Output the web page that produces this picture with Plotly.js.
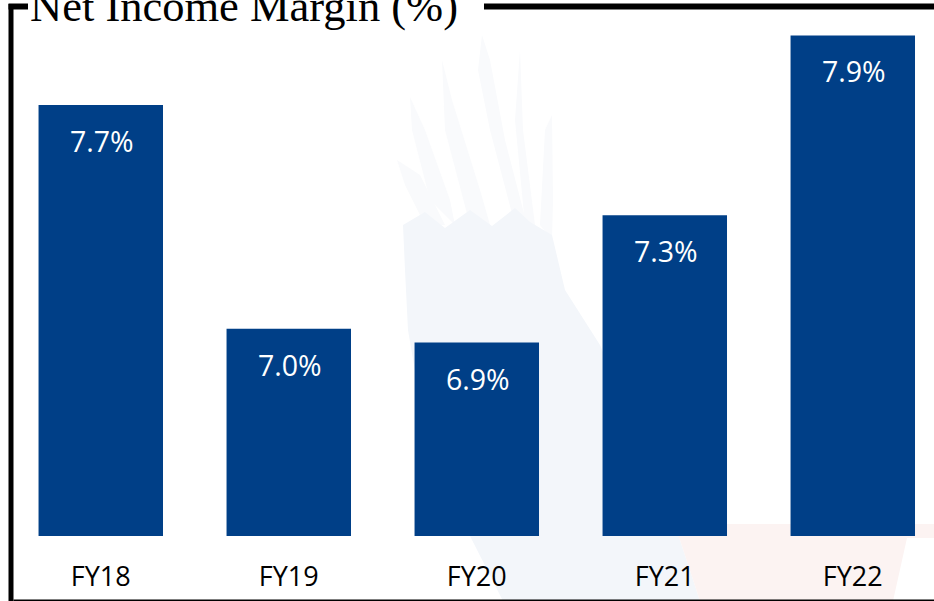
<!DOCTYPE html>
<html>
<head>
<meta charset="utf-8">
<script src="https://cdn.plot.ly/plotly-3.0.1.min.js"></script>
<style>html,body{margin:0;padding:0;background:#fff;overflow:hidden}#chart{width:934px;height:601px}</style>
</head>
<body>
<div id="chart"></div>
<script>
const categories = ["FY18", "FY19", "FY20", "FY21", "FY22"];
const marginValues = [7.676, 6.988, 6.945, 7.337, 7.89];
const valueLabels = ["7.7%", "7.0%", "6.9%", "7.3%", "7.9%"];
const chartTitle = "Net Income Margin (%)";

const W = 934, H = 601, plotBottom = 65, plotH = H - plotBottom;
const px = x => (x / W).toFixed(5);
const py = y => ((plotH - y) / plotH).toFixed(5);
const path = pts => "M" + pts.map(p => px(p[0]) + "," + py(p[1])).join("L") + "Z";
const shape = (pts, fill) => ({type: "path", xref: "paper", yref: "paper", layer: "below", path: path(pts), fillcolor: fill, line: {width: 0}});

const body = [[403,225],[425,212],[445,228],[470,210],[492,226],[515,208],[530,222],[552,235],[565,290],[600,345],[640,440],[680,540],[700,601],[503,601],[470,536],[420,400],[408,330],[405,270]];
const feathers = [
  [[482,35],[490,60],[505,140],[527,225],[515,225],[490,130],[478,70]],
  [[442,60],[452,100],[480,190],[490,225],[470,225],[445,130]],
  [[520,50],[523,130],[535,225],[525,225],[515,120]],
  [[552,115],[553,200],[552,240],[540,225],[545,130]],
  [[410,97],[425,130],[450,200],[455,225],[430,200],[412,130]],
  [[397,160],[420,175],[445,225],[425,225],[405,185]]
];
const pinkBand = [[672,524],[934,524],[934,538],[907,538],[893,601],[700,601],[680,540]];

const frameRect = (x0, x1, y0, y1) => ({type:"rect",xref:"paper",yref:"paper",layer:"above",x0:px(x0),x1:px(x1),y0:py(y1),y1:py(y0),fillcolor:"#000",line:{width:0}});
const frame = [
  frameRect(8.5, 13.5, 4, 601),
  frameRect(8.5, 28, 3.5, 9.5),
  frameRect(484, 934, 3.5, 9.5),
  frameRect(13.5, 934, 599.5, 601)
];
const labelFont = "'Open Sans', 'Noto Sans', sans-serif";

Plotly.newPlot("chart", [{
  type: "bar",
  x: categories,
  y: marginValues,
  marker: {color: "#003f87", line: {width: 0}},
  width: 0.662,
  hoverinfo: "skip"
}], {
  width: W, height: H,
  margin: {l: 0, r: 0, t: 0, b: plotBottom, pad: 0},
  paper_bgcolor: "#ffffff",
  plot_bgcolor: "rgba(0,0,0,0)",
  showlegend: false,
  bargap: 0.338,
  title: {
    text: chartTitle,
    font: {family: "'Liberation Serif', serif", size: 44.5, color: "#000"},
    x: 30 / W, xanchor: "left", xref: "paper",
    y: 1 - 5 / H, yanchor: "middle", yref: "container"
  },
  xaxis: {
    type: "category",
    range: [-0.536, 4.432],
    showgrid: false, zeroline: false, showline: false, ticks: "",
    ticklen: 0,
    ticklabelstandoff: 22,
    tickfont: {family: labelFont, size: 27, color: "#000"},
    automargin: false
  },
  yaxis: {
    range: [6.35, 7.9992],
    visible: false,
    showgrid: false, zeroline: false, fixedrange: true
  },
  annotations: categories.map((c, i) => ({
    x: c, y: marginValues[i], xref: "x", yref: "y",
    text: valueLabels[i], showarrow: false,
    yanchor: "middle", xanchor: "center", yshift: -36, xshift: 1.5,
    font: {family: labelFont, size: 28.5, color: "#ffffff"}
  })),
  shapes: feathers.map(f => shape(f, "#f9fafc")).concat([shape(body, "#f3f6fa"), shape(pinkBand, "#fcf3f2")], frame)
}, {displayModeBar: false, staticPlot: true});
</script>
</body>
</html>
